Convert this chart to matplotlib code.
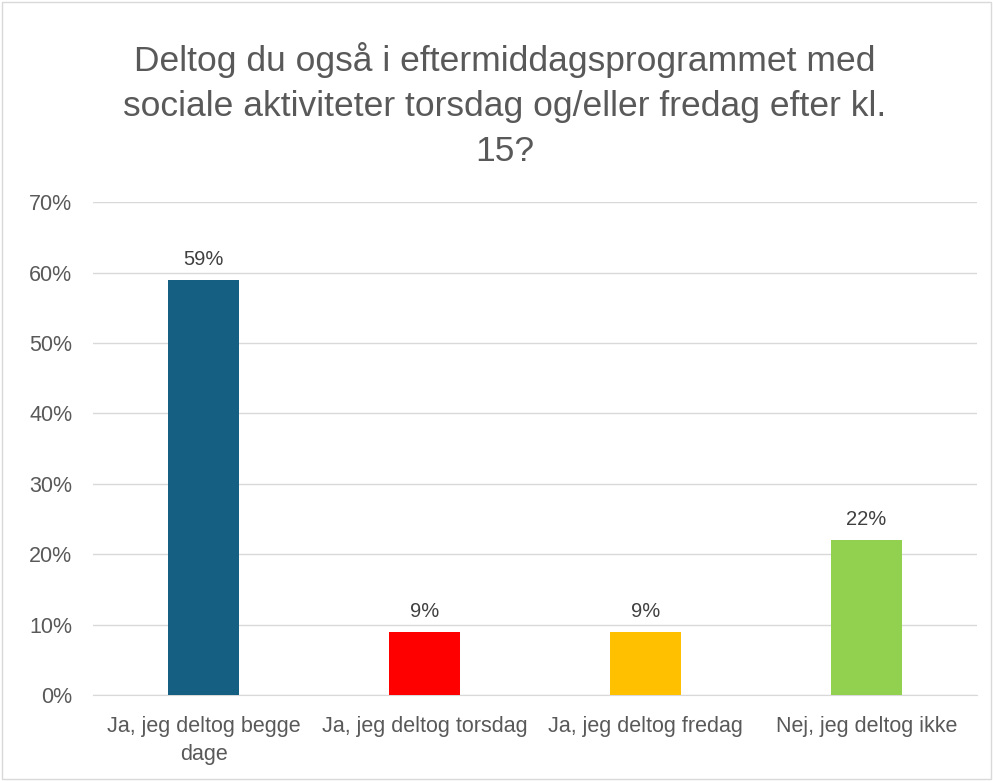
import matplotlib.pyplot as plt
import numpy as np
from matplotlib.patches import Rectangle

categories = ["Ja, jeg deltog begge\ndage", "Ja, jeg deltog torsdag",
              "Ja, jeg deltog fredag", "Nej, jeg deltog ikke"]
values = [59, 9, 9, 22]
bar_colors = ["#156082", "#FF0000", "#FFC000", "#92D050"]
title = ("Deltog du også i eftermiddagsprogrammet med\n"
         "sociale aktiviteter torsdag og/eller fredag efter kl.\n15?")

plt.rcParams['font.family'] = ['Liberation Sans', 'DejaVu Sans']

fig = plt.figure(figsize=(9.93, 7.81), dpi=100)
ax = fig.add_axes([0.0937, 0.110, 0.890, 0.631])

x = np.arange(len(categories))
rects = ax.bar(x, values, 0.32, color=bar_colors, zorder=3)
ax.bar_label(rects, labels=[f"{v}%" for v in values], padding=8,
             fontsize=14.5, color="#404040")

ax.set_xlim(-0.5, len(categories) - 0.5)
ax.set_ylim(0, 70)
ax.set_yticks(np.arange(0, 71, 10))
ax.set_yticklabels([f"{t}%" for t in range(0, 71, 10)])
ax.set_xticks(x, categories)
ax.tick_params(axis='both', length=0, labelsize=15.5, labelcolor="#595959")
ax.tick_params(axis='y', pad=15)
ax.tick_params(axis='x', pad=15)
for lbl in ax.get_xticklabels():
    lbl.set_linespacing(1.45)
ax.grid(axis='y', color="#D9D9D9", linewidth=1, zorder=0)
for s in ["top", "right", "left"]:
    ax.spines[s].set_visible(False)
ax.spines["bottom"].set_color("#D9D9D9")

fig.text(0.508, 0.946, title, ha='center', va='top', fontsize=25.5,
         color="#595959", linespacing=1.45)

fig.patches.append(Rectangle((0.002, 0.002), 0.996, 0.996, transform=fig.transFigure,
                             fill=False, edgecolor="#D9D9D9", linewidth=1))

fig.savefig("out.png", dpi=100)
